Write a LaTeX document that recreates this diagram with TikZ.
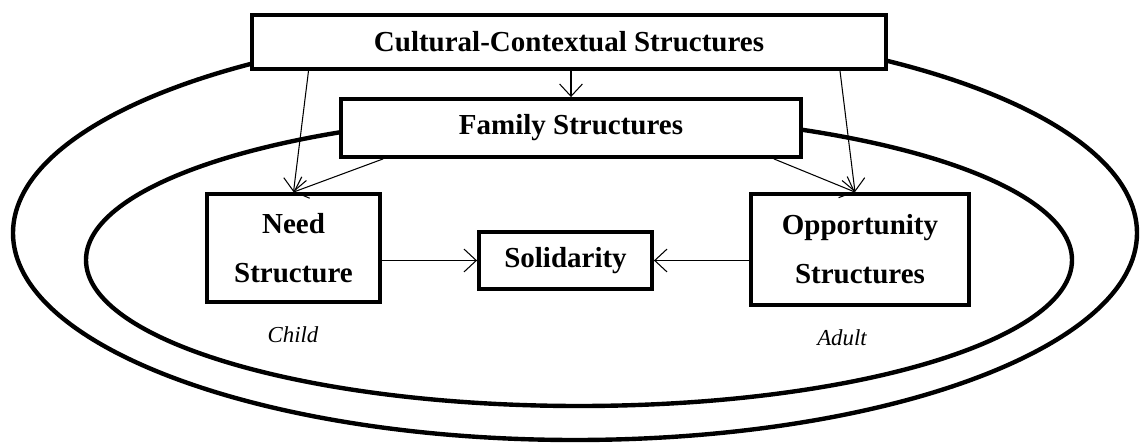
\documentclass[tikz,border=0pt]{standalone}
\usepackage{fontspec}
\setmainfont{Liberation Serif}
\usetikzlibrary{arrows.meta}

\begin{document}
\begin{tikzpicture}[
  box/.style={draw, line width=2.2pt, fill=white, inner sep=0pt, align=center,
              font=\bfseries\fontsize{16.5}{28}\selectfont},
  link/.style={line width=0.6pt, -{Straight Barb[length=7pt,width=13pt]}},
  ring/.style={line width=2.5pt},
  note/.style={font=\itshape\fontsize{13}{15}\selectfont}
]
 \useasboundingbox (0,0) rectangle (22.8,8.86);

% Outer and inner rings
 \draw[ring] (11.5,4.2) ellipse (11.24 and 4.14);
 \draw[ring] (11.58,3.66) ellipse (9.86 and 2.92);

% Boxes
 \node[box, minimum width=12.68cm, minimum height=1.08cm] (ctx) at (11.38,8.02) {Cultural-Contextual Structures};
 \node[box, minimum width=9.2cm, minimum height=1.16cm] (fam) at (11.42,6.3) {Family Structures};
 \node[box, minimum width=3.46cm, minimum height=2.16cm] (need) at (5.87,3.9) {Need\\Structure};
 \node[box, minimum width=3.46cm, minimum height=1.14cm] (sol) at (11.31,3.65) {Solidarity};
 \node[box, minimum width=4.36cm, minimum height=2.22cm] (opp) at (17.2,3.87) {Opportunity\\Structures};

% Labels under the boxes
 \node[note] (child) at (5.86,2.16) {Child};
 \node[note] (adult) at (16.84,2.1) {Adult};

% Arrows from the top box
 \draw[link] ([xshift=0.3cm]ctx.south -| need.north) -- (need.north);
 \draw[link] (ctx.south -| fam.north) -- (fam.north);
 \draw[link] ([xshift=-0.4cm]ctx.south -| opp.north) -- ([xshift=-0.1cm]opp.north);

% Arrows from the family box
 \draw[link] ([xshift=0.88cm]fam.south west) -- (need.north);
 \draw[link] ([xshift=-0.58cm]fam.south east) -- ([xshift=-0.1cm]opp.north);

% Arrows into solidarity
 \draw[link] (need.east |- sol.west) -- (sol.west);
 \draw[link] (opp.west |- sol.east) -- (sol.east);

\end{tikzpicture}
\end{document}
